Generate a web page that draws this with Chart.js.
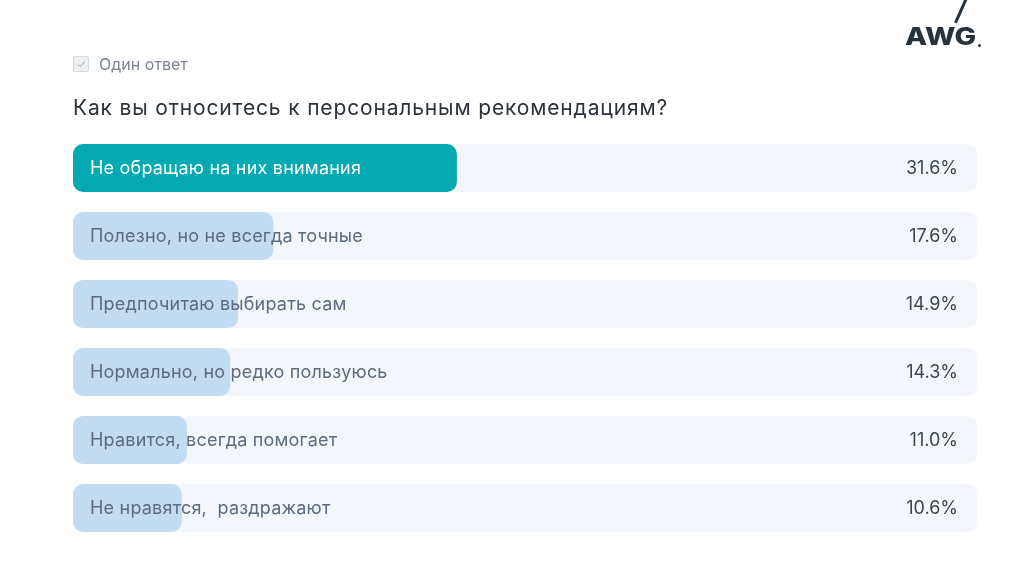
<!DOCTYPE html>
<html>
<head>
<meta charset="utf-8">
<script src="https://cdn.jsdelivr.net/npm/chart.js@4/dist/chart.umd.min.js"></script>
<style>
  html, body { margin:0; padding:0; background:#fff; }
  body { width:1024px; height:576px; position:relative; overflow:hidden; font-family:Inter, "Noto Sans", sans-serif; }
  #wrap { position:absolute; left:0; top:0; width:1024px; height:576px; }
  .note { position:absolute; left:73px; top:54px; font-size:16px; color:#7b8591; display:flex; align-items:center; }
  .box { width:14px; height:14px; border:1px solid #d5dade; border-radius:2px; background:#eef1f3; color:#a9b1b8; font-size:11px; line-height:14px; text-align:center; margin-right:10px; }
  .title { position:absolute; left:73px; top:95px; font-size:21px; letter-spacing:0.85px; color:#2c333b; }
  .logo { position:absolute; left:905px; top:22px; font-size:24px; line-height:30px; font-weight:800; color:#27323d; white-space:nowrap; transform:scaleX(1.2); transform-origin:left center; }
  .dot { position:absolute; left:978px; top:44px; width:3px; height:3px; border-radius:50%; background:#27323d; }
  .slash { position:absolute; left:965px; top:-2px; width:2.5px; height:27px; background:#27323d; transform:rotate(24deg); transform-origin:top center; }
</style>
</head>
<body>
<div id="wrap"><canvas id="chart" width="1024" height="576"></canvas></div>
<div class="note"><span class="box">&#10003;</span>Один ответ</div>
<div class="title">Как вы относитесь к персональным рекомендациям?</div>
<div class="slash"></div>
<div class="logo">AWG</div>
<div class="dot"></div>
<script>
const labels = ['Не обращаю на них внимания', 'Полезно, но не всегда точные', 'Предпочитаю выбирать сам', 'Нормально, но редко пользуюсь', 'Нравится, всегда помогает', 'Не нравятся,  раздражают'];
const values = [31.6, 17.6, 14.9, 14.3, 11.0, 10.6];
const colors = ['#05a9b1', '#c2dcf1', '#c2dcf1', '#c2dcf1', '#c2dcf1', '#c2dcf1'];
const textColors = ['#ffffff', '#5c6b80', '#5c6b80', '#5c6b80', '#5c6b80', '#5c6b80'];
const axisMin = 2.3, axisMax = 71.3;

function roundRect(ctx, x, y, w, h, r) {
  ctx.beginPath();
  ctx.moveTo(x + r, y);
  ctx.arcTo(x + w, y, x + w, y + h, r);
  ctx.arcTo(x + w, y + h, x, y + h, r);
  ctx.arcTo(x, y + h, x, y, r);
  ctx.arcTo(x, y, x + w, y, r);
  ctx.closePath();
}

const tracks = {
  id: 'tracks',
  beforeDatasetsDraw(chart) {
    const { ctx, chartArea, scales } = chart;
    ctx.save();
    ctx.fillStyle = '#f3f7fb';
    labels.forEach((l, i) => {
      const y = scales.y.getPixelForValue(i);
      roundRect(ctx, chartArea.left, y - 24, chartArea.right - chartArea.left, 48, 10);
      ctx.fill();
    });
    ctx.restore();
  }
};

const texts = {
  id: 'texts',
  afterDatasetsDraw(chart) {
    const { ctx, chartArea, scales } = chart;
    ctx.save();
    ctx.font = '18px Inter, "Noto Sans", sans-serif';
    ctx.textBaseline = 'middle';
    labels.forEach((l, i) => {
      const y = scales.y.getPixelForValue(i) + 1;
      ctx.textAlign = 'left';
      ctx.fillStyle = textColors[i];
      ctx.letterSpacing = '0.2px';
      ctx.fillText(l, chartArea.left + 17, y);
      ctx.letterSpacing = '0px';
      ctx.textAlign = 'right';
      ctx.fillStyle = '#3d4651';
      ctx.fillText(values[i].toFixed(1) + '%', chartArea.right - 19, y);
    });
    ctx.restore();
  }
};

new Chart(document.getElementById('chart'), {
  type: 'bar',
  data: { labels, datasets: [{ data: values, base: axisMin, clip: false, backgroundColor: colors, borderRadius: 10, borderSkipped: false, inflateAmount: 0, barThickness: 48 }] },
  options: {
    indexAxis: 'y',
    responsive: false,
    animation: false,
    layout: { padding: { left: 73, right: 47, top: 134, bottom: 34 } },
    scales: {
      x: { display: false, min: axisMin, max: axisMax },
      y: { display: false }
    },
    plugins: { legend: { display: false }, tooltip: { enabled: false } }
  },
  plugins: [tracks, texts]
});
</script>
</body>
</html>
